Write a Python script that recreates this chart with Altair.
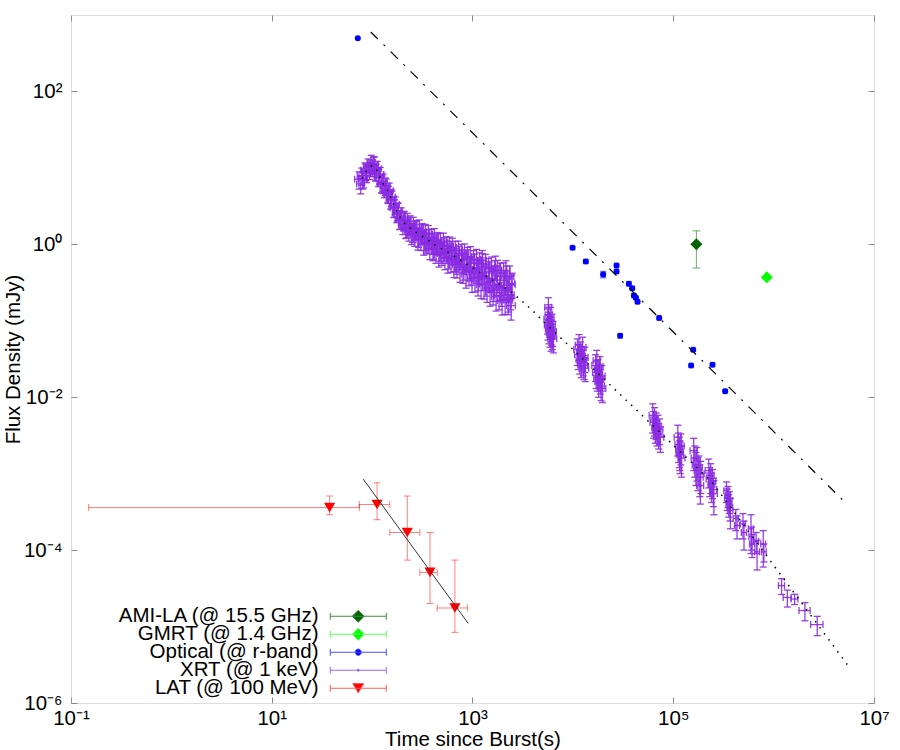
import altair as alt
import pandas as pd

FONT = "Liberation Sans"
FS = 20.5
PLOT_W, PLOT_H = 803, 688

# ---------------------------------------------------------------------------
# Swift/XRT light curve at 1 keV: time (s), half bin width (s), flux (mJy), error (mJy)
# first orbit: initial flare followed by the steep-to-shallow decay
xrt1_t = [74, 77, 79, 82, 85, 88, 91, 94, 98, 101,
          105, 108, 112, 116, 120, 124, 129, 133, 138, 143,
          148, 153, 158, 164, 170, 176, 182, 188, 195, 202,
          209, 216, 224, 232, 240, 248, 257, 266, 275, 285,
          295, 305, 316, 327, 339, 351, 363, 376, 389, 403,
          417, 432, 447, 462, 479, 495, 513, 531, 550, 569,
          589, 610, 631, 653, 676, 700, 724, 750, 776, 804,
          832, 861, 891, 923, 955, 989, 1023, 1059, 1096, 1135,
          1175, 1216, 1259, 1303, 1349, 1396, 1445, 1496, 1549, 1603,
          1660, 1718, 1778, 1841, 1905, 1972, 2042, 2113, 2188, 2265,
          2344, 2427, 2483,
          334, 398, 470, 560, 665, 790, 940, 1115, 1325, 1575,
          1870, 2220, 2400, 1250, 1700, 2150]
xrt1_dt = [7, 7, 8, 8, 8, 8, 9, 9, 9, 10,
           10, 10, 11, 11, 11, 12, 12, 13, 13, 14,
           14, 15, 15, 16, 16, 17, 17, 18, 19, 19,
           20, 21, 21, 22, 23, 24, 24, 25, 26, 27,
           30, 31, 32, 33, 34, 35, 36, 38, 39, 40,
           42, 43, 45, 46, 48, 50, 51, 53, 55, 57,
           59, 61, 63, 65, 68, 70, 72, 75, 78, 80,
           83, 86, 89, 92, 96, 99, 102, 106, 110, 114,
           118, 122, 126, 130, 135, 140, 145, 150, 155, 160,
           166, 172, 178, 184, 190, 197, 204, 211, 219, 226,
           234, 243, 150,
           33, 40, 47, 56, 67, 79, 94, 112, 132, 158,
           187, 222, 200, 125, 170, 215]
xrt1_f = [7.08, 6.17, 7.94, 7.24, 9.33, 8.51, 10.5, 9.33, 11.7, 10.2,
          11.2, 8.91, 9.77, 7.59, 8.13, 6.31, 6.61, 5.37, 5.75, 4.68,
          5.01, 3.89, 3.98, 3.05, 3.31, 2.57, 2.75, 2.11, 2.40, 1.82,
          2.14, 1.62, 2.00, 1.50, 1.86, 1.36, 1.78, 1.29, 1.60, 1.17,
          1.62, 1.16, 1.45, 1.02, 1.41, 1.05, 1.36, 0.891, 1.22, 0.871,
          1.23, 0.804, 1.10, 0.724, 1.07, 0.759, 1.07, 0.676, 0.955, 0.610,
          0.944, 0.631, 0.912, 0.537, 0.822, 0.543, 0.832, 0.468, 0.750, 0.468,
          0.759, 0.407, 0.684, 0.437, 0.692, 0.355, 0.617, 0.367, 0.638, 0.331,
          0.575, 0.295, 0.556, 0.302, 0.550, 0.269, 0.484, 0.240, 0.501, 0.251,
          0.452, 0.209, 0.457, 0.214, 0.417, 0.184, 0.422, 0.188, 0.380, 0.186,
          0.380, 0.158, 0.309,
          1.19, 1.07, 0.871, 0.832, 0.661, 0.631, 0.501, 0.468, 0.380, 0.355,
          0.282, 0.269, 0.219, 0.62, 0.52, 0.45]
xrt1_df = [1.8, 1.6, 2.0, 1.8, 2.3, 2.1, 2.6, 2.3, 2.9, 2.5,
           2.8, 2.2, 2.4, 1.9, 2.0, 1.6, 1.7, 1.3, 1.4, 1.2,
           1.3, 1.0, 1.0, 0.8, 0.85, 0.65, 0.7, 0.55, 0.6, 0.48,
           0.56, 0.43, 0.54, 0.40, 0.50, 0.37, 0.48, 0.35, 0.45, 0.33,
           0.46, 0.33, 0.42, 0.30, 0.41, 0.30, 0.40, 0.26, 0.36, 0.26,
           0.37, 0.24, 0.33, 0.22, 0.33, 0.23, 0.33, 0.21, 0.30, 0.19,
           0.30, 0.20, 0.29, 0.17, 0.27, 0.18, 0.27, 0.15, 0.25, 0.16,
           0.25, 0.14, 0.23, 0.15, 0.24, 0.12, 0.21, 0.13, 0.22, 0.12,
           0.20, 0.10, 0.20, 0.11, 0.19, 0.095, 0.17, 0.085, 0.18, 0.09,
           0.16, 0.075, 0.16, 0.075, 0.15, 0.065, 0.15, 0.067, 0.14, 0.066,
           0.14, 0.056, 0.11,
           0.36, 0.33, 0.27, 0.27, 0.22, 0.21, 0.17, 0.16, 0.13, 0.12,
           0.10, 0.095, 0.08, 0.21, 0.18, 0.16]

# first orbit, bins lying close to the decay curve
xrt1b_t = [80.5, 86.5, 96, 103, 110, 118, 126, 135, 145, 155,
           167, 179, 192, 206, 220, 236, 252, 270, 290, 310,
           345, 370, 410, 440, 485, 520, 580, 620, 690, 740,
           820, 875, 970, 1040, 1150, 1230, 1370, 1470, 1630, 1750,
           1940, 2080, 2300, 2460]
xrt1b_dt = [8, 8, 9, 10, 11, 12, 12, 13, 14, 15,
            16, 17, 18, 20, 21, 23, 24, 26, 28, 30,
            34, 37, 41, 44, 48, 52, 58, 62, 69, 74,
            82, 87, 97, 104, 115, 123, 137, 147, 163, 175,
            194, 208, 230, 200]
xrt1b_f = [7.08, 9.02, 10.2, 11.0, 9.02, 8.13, 6.24, 5.89, 4.57, 4.17,
           3.02, 2.75, 2.14, 2.04, 1.66, 1.78, 1.45, 1.57, 1.26, 1.41,
           1.08, 1.22, 0.895, 1.06, 0.794, 0.944, 0.676, 0.841, 0.586, 0.724,
           0.490, 0.646, 0.432, 0.562, 0.367, 0.505, 0.320, 0.437, 0.269, 0.385,
           0.234, 0.335, 0.200, 0.295]
xrt1b_df = [1.8, 2.2, 2.5, 2.7, 2.2, 2.0, 1.6, 1.5, 1.15, 1.05,
            0.78, 0.72, 0.56, 0.54, 0.45, 0.48, 0.40, 0.43, 0.35, 0.40,
            0.31, 0.35, 0.26, 0.31, 0.23, 0.28, 0.20, 0.25, 0.18, 0.22,
            0.15, 0.20, 0.14, 0.18, 0.12, 0.16, 0.11, 0.15, 0.09, 0.13,
            0.08, 0.12, 0.07, 0.10]

# later orbits (photon-counting mode)
xrt2_t = [5600, 5650, 5700, 5750, 5800, 5850, 5900, 5950, 6000, 6060, 6120, 6180, 6250, 6320, 6400,
          11100, 11300, 11500, 11700, 11900, 12100, 12300, 12500, 12700, 12900, 13100, 13300,
          16800, 17050, 17300, 17550, 17800, 18050, 18300, 18550, 18800, 19100, 19400, 19700,
          62500, 63800, 65100, 66400, 67700, 69000, 70300, 71600, 73000, 74500,
          111000, 113000, 115000, 116000, 117000, 119000, 121000,
          160000, 164000, 168000, 172000, 176000, 180000, 184000, 186000, 188000,
          226000, 231000, 236000, 241000, 246000, 251000, 254000,
          339000, 345000, 351000, 357000, 363000, 368000, 371000,
          420000, 432000, 495000, 507000, 595000, 602000, 610000, 670000, 684000, 788000, 800000]
xrt2_dt = [450, 450, 455, 460, 465, 470, 470, 475, 480, 485, 490, 495, 500, 505, 510,
           890, 900, 920, 940, 950, 970, 980, 1000, 1020, 1030, 1050, 1060,
           1340, 1360, 1380, 1400, 1420, 1440, 1460, 1480, 1500, 1530, 1550, 1580,
           5000, 5100, 5200, 5300, 5400, 5500, 5600, 5700, 5800, 6000,
           8900, 9000, 9200, 9300, 9400, 9500, 9700,
           12800, 13100, 13400, 13800, 14100, 14400, 14700, 14900, 15000,
           18000, 18500, 18900, 19300, 19700, 20100, 20300,
           20000, 20500, 21000, 21400, 21800, 22000, 22200,
           25000, 25000, 30000, 30000, 35000, 35000, 35000, 38000, 38000, 44000, 44000]
xrt2_f = [0.105, 0.088, 0.150, 0.120, 0.078, 0.095, 0.070, 0.083, 0.110, 0.062, 0.075, 0.090, 0.066, 0.072, 0.058,
          0.042, 0.036, 0.048, 0.031, 0.039, 0.028, 0.034, 0.045, 0.030, 0.026, 0.033, 0.024,
          0.026, 0.021, 0.030, 0.018, 0.023, 0.016, 0.020, 0.025, 0.017, 0.014, 0.019, 0.013,
          0.0058, 0.0047, 0.0052, 0.0040, 0.0045, 0.0036, 0.0042, 0.0033, 0.0038, 0.0030,
          0.0030, 0.0024, 0.0021, 0.0019, 0.0018, 0.0023, 0.0016,
          0.0020, 0.0016, 0.0013, 0.0015, 0.0011, 0.0012, 0.0009, 0.0007, 0.0010,
          0.0011, 0.00085, 0.00095, 0.00072, 0.00080, 0.00062, 0.00055,
          0.00060, 0.00048, 0.00052, 0.00040, 0.00044, 0.00036, 0.00033,
          0.00026, 0.00021, 0.00022, 0.00017, 0.00019, 0.00015, 0.00012, 0.00013, 0.000095, 0.00012, 0.000095]
xrt2_df = [0.038, 0.032, 0.050, 0.042, 0.028, 0.034, 0.025, 0.030, 0.040, 0.022, 0.027, 0.032, 0.024, 0.026, 0.020,
           0.016, 0.013, 0.018, 0.011, 0.014, 0.010, 0.012, 0.016, 0.011, 0.009, 0.012, 0.008,
           0.010, 0.008, 0.011, 0.006, 0.008, 0.006, 0.007, 0.009, 0.006, 0.005, 0.007, 0.0045,
           0.0024, 0.0018, 0.0021, 0.0015, 0.0017, 0.0013, 0.0016, 0.0012, 0.0014, 0.0011,
           0.0013, 0.0010, 0.0009, 0.0008, 0.0008, 0.0010, 0.0007,
           0.0009, 0.0007, 0.0006, 0.0007, 0.0005, 0.0005, 0.0004, 0.0003, 0.00045,
           0.00045, 0.00035, 0.0004, 0.0003, 0.00033, 0.00025, 0.00026,
           0.00018, 0.00015, 0.00016, 0.00013, 0.00014, 0.00012, 0.00014,
           0.00008, 0.00007, 0.00008, 0.00007, 0.00010, 0.00005, 0.00004, 0.00004, 0.00004, 0.00006, 0.000025]

# last, sparsely binned points
xrt3_t = [1.20e6, 1.37e6, 1.62e6, 2.05e6, 2.72e6]
xrt3_dt = [8.4e4, 1.25e5, 1.25e5, 2.6e5, 3.8e5]
xrt3_f = [3.43e-5, 2.40e-5, 2.29e-5, 1.62e-5, 1.06e-5]
xrt3_df = [0.8e-5, 0.6e-5, 0.35e-5, 0.43e-5, 0.3e-5]

# XRT model curve (dotted)
xrt_fit_t = [79.4, 89.1, 98.9, 111, 120, 129, 140, 150, 162, 175, 189, 204, 229, 257, 302,
             349, 391, 456, 531, 695, 942, 1230, 1644, 2188, 2512, 3162, 3981, 5260, 2.40e5, 5.52e6]
xrt_fit_f = [7.24, 9.33, 10.7, 9.33, 7.41, 6.17, 5.25, 4.37, 3.47, 2.75, 2.29, 1.95, 1.70, 1.51, 1.32,
             1.17, 1.05, 0.918, 0.832, 0.668, 0.519, 0.420, 0.330, 0.263, 0.229, 0.178, 0.135, 0.0942,
             7.94e-4, 3.08e-6]

# ---------------------------------------------------------------------------
# Optical r-band
opt_t = [72, 9930, 13460, 20040, 27230, 27230, 29580, 36140, 39000, 40550, 42460, 44100,
         72400, 158000, 150700, 246000, 329000]
opt_dt = [0, 400, 600, 1000, 1100, 1100, 1200, 1500, 1600, 1600, 1700, 1800,
          2900, 6300, 6000, 9800, 13000]
opt_f = [495, 0.90, 0.597, 0.404, 0.530, 0.442, 0.0637, 0.305, 0.267, 0.214, 0.200, 0.177,
         0.109, 0.0417, 0.026, 0.0265, 0.0120]
opt_df = [0, 0.04, 0.03, 0.04, 0.025, 0.022, 0.004, 0.02, 0.013, 0.011, 0.01, 0.009,
          0.006, 0.002, 0.0013, 0.0013, 0.0006]
opt_fit_t = [97, 4.9e6]
opt_fit_f = [600, 4.5e-4]

# Radio
ami_t, ami_f, ami_flo, ami_fhi = [1.7e5], [1.0], [0.49], [1.5]
gmrt_t, gmrt_f = [8.55e5], [0.37]

# Fermi/LAT at 100 MeV
lat_t = [37.7, 112, 224, 377, 668]
lat_tlo = [0.15, 74.5, 150, 299, 445]
lat_thi = [74.5, 150, 299, 445, 894]
lat_f = [3.6e-4, 3.95e-4, 1.7e-4, 5.1e-5, 1.75e-5]
lat_flo = [2.9e-4, 2.5e-4, 7.4e-5, 2.0e-5, 8.4e-6]
lat_fhi = [5.1e-4, 7.6e-4, 5.1e-4, 1.7e-4, 7.4e-5]
lat_fit_t = [81.5, 906]
lat_fit_f = [8.5e-4, 1.1e-5]

# Legend entries
series_names = ["AMI-LA (@ 15.5 GHz)", "GMRT (@ 1.4 GHz)", "Optical (@ r-band)",
                "XRT (@ 1 keV)", "LAT (@ 100 MeV)"]
series_colors = ["#006400", "#00ff00", "#0000ff", "#8a2be2", "#ff0000"]
series_bar_colors = ["#3f8f3f", "#5cff5c", "#4d4dff", "#a262ea", "#ff5c5c"]

# Axis ticks
x_tick_values = [0.1, 10, 1000, 1e5, 1e7]
x_tick_labels = ["10⁻¹", "10¹", "10³", "10⁵", "10⁷"]
y_tick_values = [1e-6, 1e-4, 1e-2, 1, 100]
y_tick_labels = ["10⁻⁶", "10⁻⁴", "10⁻²", "10⁰", "10²"]

# ---------------------------------------------------------------------------
XS = alt.Scale(type="log", domain=[0.1, 1e7], nice=False)
YS = alt.Scale(type="log", domain=[1e-6, 1e3], nice=False)


def label_expr(values, labels):
    expr = "'%s'" % labels[-1]
    for i in range(len(values) - 2, -1, -1):
        thr = (values[i] * values[i + 1]) ** 0.5
        expr = "datum.value < %g ? '%s' : (%s)" % (thr, labels[i], expr)
    return expr


def xe(field, axis=None):
    return alt.X(field, type="quantitative", scale=XS, axis=axis)


def ye(field, axis=None):
    return alt.Y(field, type="quantitative", scale=YS, axis=axis)


def sym_frame(t, dt, f, df):
    d = pd.DataFrame({"t": t, "dt": dt, "f": f, "df": df})
    d["t_lo"] = d["t"] - d["dt"]
    d["t_hi"] = d["t"] + d["dt"]
    d["f_lo"] = d["f"] - d["df"]
    d["f_hi"] = d["f"] + d["df"]
    return d


def error_layers(d, color, opacity, cap, width=1.0):
    out = []
    dh = d[d["t_hi"] > d["t_lo"]]
    dv = d[d["f_hi"] > d["f_lo"]]
    if len(dh):
        b = alt.Chart(dh)
        out.append(b.mark_rule(color=color, opacity=opacity, strokeWidth=width).encode(
            x=xe("t_lo"), x2=alt.X2("t_hi"), y=ye("f")))
        out.append(b.transform_fold(["t_lo", "t_hi"], as_=["end", "tv"]).mark_tick(
            orient="vertical", size=cap, thickness=width, color=color, opacity=opacity).encode(
            x=xe("tv"), y=ye("f")))
    if len(dv):
        b = alt.Chart(dv)
        out.append(b.mark_rule(color=color, opacity=opacity, strokeWidth=width).encode(
            x=xe("t"), y=ye("f_lo"), y2=alt.Y2("f_hi")))
        out.append(b.transform_fold(["f_lo", "f_hi"], as_=["end", "fv"]).mark_tick(
            orient="horizontal", size=cap, thickness=width, color=color, opacity=opacity).encode(
            x=xe("t"), y=ye("fv")))
    return out


xrt = pd.concat([sym_frame(xrt1_t, xrt1_dt, xrt1_f, xrt1_df),
                 sym_frame(xrt1b_t, xrt1b_dt, xrt1b_f, xrt1b_df),
                 sym_frame(xrt2_t, xrt2_dt, xrt2_f, xrt2_df),
                 sym_frame(xrt3_t, xrt3_dt, xrt3_f, xrt3_df)], ignore_index=True)
opt = sym_frame(opt_t, opt_dt, opt_f, opt_df)
ami = pd.DataFrame({"t": ami_t, "f": ami_f, "t_lo": ami_t, "t_hi": ami_t,
                    "f_lo": ami_flo, "f_hi": ami_fhi})
gmrt = pd.DataFrame({"t": gmrt_t, "f": gmrt_f})
lat = pd.DataFrame({"t": lat_t, "t_lo": lat_tlo, "t_hi": lat_thi,
                    "f": lat_f, "f_lo": lat_flo, "f_hi": lat_fhi})
xrt_fit = pd.DataFrame({"t": xrt_fit_t, "f": xrt_fit_f})
opt_fit = pd.DataFrame({"t": opt_fit_t, "f": opt_fit_f})
lat_fit = pd.DataFrame({"t": lat_fit_t, "f": lat_fit_f})

# ---- axes: labelled bottom/left, plus inward ticks on all four sides
common = dict(grid=False, domain=False, labelFont=FONT, titleFont=FONT)
tick_only = dict(labels=False, ticks=True, tickSize=6, tickWidth=1, tickColor="#8c8c8c",
                 title=None, grid=False, domain=False)

x_main = alt.Axis(values=x_tick_values, labelExpr=label_expr(x_tick_values, x_tick_labels),
                  orient="bottom", ticks=False, tickSize=0, labelPadding=5,
                  labelFontSize=FS, labelColor="black", labelFlush=False, labelOverlap=False,
                  title="Time since Burst(s)", titleFontSize=FS, titleFontWeight="normal",
                  titleColor="black", titlePadding=1, **common)
y_main = alt.Axis(values=y_tick_values, labelExpr=label_expr(y_tick_values, y_tick_labels),
                  orient="left", ticks=False, tickSize=0, labelPadding=9,
                  labelFontSize=FS, labelColor="black", labelFlush=False, labelOverlap=False,
                  title="Flux Density (mJy)", titleFontSize=FS, titleFontWeight="normal",
                  titleColor="black", titlePadding=0, **common)
x_ticks_bottom = alt.Axis(values=x_tick_values, orient="top", offset=-PLOT_H, **tick_only)
x_ticks_top = alt.Axis(values=x_tick_values, orient="bottom", offset=-PLOT_H, **tick_only)
y_ticks_left = alt.Axis(values=y_tick_values, orient="right", offset=-PLOT_W, **tick_only)
y_ticks_right = alt.Axis(values=y_tick_values, orient="left", offset=-PLOT_W, **tick_only)

layers = []
layers += error_layers(xrt, "#8a2be2", 0.9, 7, 1.3)
layers += error_layers(opt, "#0000ff", 0.6, 6)
layers += error_layers(ami, "#006400", 0.55, 8)
layers += error_layers(lat, "#ff0000", 0.5, 7)

layers.append(alt.Chart(xrt).mark_point(shape="circle", filled=True, size=3, opacity=1,
                                        color="#8a2be2").encode(x=xe("t"), y=ye("f")))
layers.append(alt.Chart(opt).mark_point(shape="circle", filled=True, size=36, opacity=1,
                                        color="#0000ff").encode(x=xe("t"), y=ye("f")))
layers.append(alt.Chart(ami).mark_point(shape="diamond", filled=True, size=144, opacity=1,
                                        color="#006400").encode(x=xe("t"), y=ye("f")))
layers.append(alt.Chart(gmrt).mark_point(shape="diamond", filled=True, size=144, opacity=1,
                                         color="#00ff00").encode(x=xe("t"), y=ye("f")))
layers.append(alt.Chart(lat).mark_point(shape="triangle-down", filled=True, size=125, opacity=1,
                                        color="#ff0000").encode(x=xe("t"), y=ye("f")))

# model curves (these layers also carry the axes)
layers.append(alt.Chart(xrt_fit).mark_line(color="black", strokeWidth=1.5,
                                           strokeDash=[1.5, 6]).encode(
    x=xe("t", x_main), y=ye("f", y_main)))
layers.append(alt.Chart(opt_fit).mark_line(color="black", strokeWidth=1.2,
                                           strokeDash=[10, 8, 2, 8]).encode(
    x=xe("t", x_ticks_bottom), y=ye("f", y_ticks_left)))
layers.append(alt.Chart(lat_fit).mark_line(color="#333333", strokeWidth=1).encode(
    x=xe("t", x_ticks_top), y=ye("f", y_ticks_right)))

# legend: label first, then a sample line with end caps and the series marker.
# The sample is drawn to the right of the (small) symbol box, so the label sits on its left.
K = 7.0                     # symbol box half-size in px (symbolSize = (2K)^2)
GAP, SAMPLE = 15.0, 56.0    # gap label->sample, sample length (px)
u0 = (2 * K + GAP - K) / K
u1 = (2 * K + GAP + SAMPLE - K) / K
uc = (u0 + u1) / 2
ch = 3.5 / K


def fmt(v):
    return "%.3f" % v


cap = ("M%s,0H%s" % (fmt(u0), fmt(u1)) +
       "M%s,%sV%s" % (fmt(u0), fmt(-ch), fmt(ch)) +
       "M%s,%sV%s" % (fmt(u1), fmt(-ch), fmt(ch)))


def diamond(r):
    r /= K
    return "M%s,0L%s,%sL%s,0L%s,%sZ" % (fmt(uc - r), fmt(uc), fmt(-r), fmt(uc + r), fmt(uc), fmt(r))


def disc(r):
    r /= K
    return "M%s,0A%s,%s 0 1,0 %s,0A%s,%s 0 1,0 %s,0Z" % (
        fmt(uc - r), fmt(r), fmt(r), fmt(uc + r), fmt(r), fmt(r), fmt(uc - r))


def tri_down(hw, hh):
    hw /= K
    hh /= K
    return "M%s,%sL%s,%sL%s,%sZ" % (fmt(uc - hw), fmt(-hh), fmt(uc + hw), fmt(-hh), fmt(uc), fmt(hh))


legend_paths = [cap + diamond(6), cap + diamond(6), cap + disc(3), cap + disc(1),
                cap + tri_down(5.5, 4.75)]

legend_opts = dict(title=None, orient="none", legendX=227, legendY=591, direction="vertical",
                   labelAlign="right", labelOffset=0, labelFont=FONT, labelFontSize=FS,
                   labelColor="black", labelLimit=600, symbolSize=(2 * K) ** 2,
                   symbolStrokeWidth=1, padding=0, symbolOpacity=1, gridAlign="none")
try:
    # entries packed slightly tighter than the label height
    LEG = alt.Legend(rowPadding=-3, **legend_opts)
except Exception:
    LEG = alt.Legend(rowPadding=0, **legend_opts)

legend_df = pd.DataFrame({"series": series_names})
layers.append(alt.Chart(legend_df).mark_point(filled=True, clip=True, opacity=1, strokeWidth=1).encode(
    x=alt.value(-300), y=alt.value(-300),
    fill=alt.Fill("series:N", scale=alt.Scale(domain=series_names, range=series_colors), legend=LEG),
    stroke=alt.Stroke("series:N", scale=alt.Scale(domain=series_names, range=series_bar_colors),
                      legend=LEG),
    shape=alt.Shape("series:N", scale=alt.Scale(domain=series_names, range=legend_paths), legend=LEG),
))

chart = (
    alt.layer(*layers)
    .resolve_axis(x="independent", y="independent")
    .properties(width=PLOT_W, height=PLOT_H,
                padding={"left": 71, "top": 15, "right": 26, "bottom": 47},
                autosize=alt.AutoSizeParams(type="none"))
    .configure_view(stroke="black", strokeWidth=1)
    .configure(font=FONT)
)

chart.save("out.html", embed_options={"renderer": "svg", "actions": False})
